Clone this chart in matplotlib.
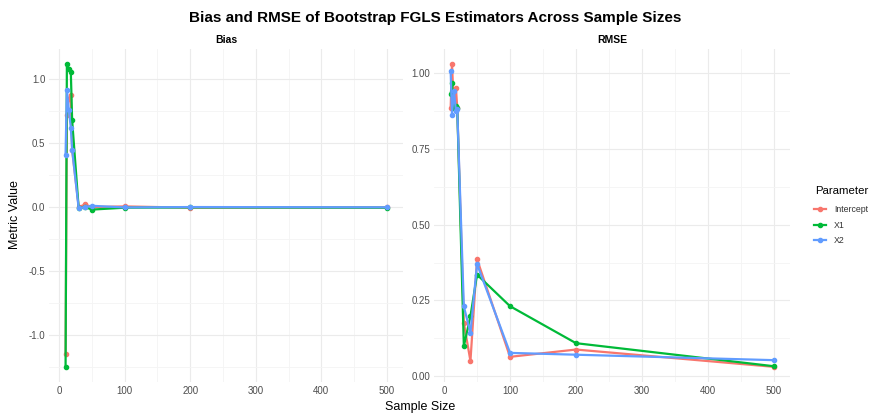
import matplotlib
matplotlib.use("Agg")
import matplotlib.pyplot as plt
from matplotlib.ticker import MultipleLocator

plt.rcParams['font.family'] = ['Liberation Sans', 'DejaVu Sans']

sample_sizes = [10, 12, 15, 18, 20, 30, 40, 50, 100, 200, 500]
parameters = ["Intercept", "X1", "X2"]
colors = {"Intercept": "#F8766D", "X1": "#00BA38", "X2": "#619CFF"}

bias_intercept = [-1.15, 0.72, 0.85, 0.88, 0.45, 0.00, 0.02, 0.00, 0.005, -0.005, -0.003]
bias_x1 = [-1.25, 1.12, 1.08, 1.06, 0.68, -0.01, 0.00, -0.02, -0.005, -0.003, -0.005]
bias_x2 = [0.41, 0.92, 0.76, 0.62, 0.45, -0.01, 0.00, 0.01, -0.003, 0.000, -0.002]

rmse_intercept = [0.885, 1.03, 0.885, 0.95, 0.885, 0.176, 0.05, 0.386, 0.064, 0.088, 0.031]
rmse_x1 = [0.93, 0.967, 0.885, 0.89, 0.885, 0.099, 0.198, 0.335, 0.231, 0.109, 0.033]
rmse_x2 = [1.005, 0.863, 0.94, 0.874, 0.88, 0.23, 0.143, 0.37, 0.077, 0.071, 0.053]

bias = {"Intercept": bias_intercept, "X1": bias_x1, "X2": bias_x2}
rmse = {"Intercept": rmse_intercept, "X1": rmse_x1, "X2": rmse_x2}

fig = plt.figure(figsize=(8.7, 4.17), dpi=100)
W, H = 870, 417

def ax_at(x0, y0, x1, y1):
    return fig.add_axes([x0 / W, 1 - y1 / H, (x1 - x0) / W, (y1 - y0) / H])

ax1 = ax_at(49.5, 48.7, 403, 382)
ax2 = ax_at(434.5, 48.7, 790, 382)

def style(ax, major, minor, fmt):
    for s in ax.spines.values():
        s.set_visible(False)
    ax.set_facecolor("white")
    ax.xaxis.set_major_locator(MultipleLocator(100))
    ax.xaxis.set_minor_locator(MultipleLocator(50))
    ax.yaxis.set_major_locator(MultipleLocator(major))
    ax.yaxis.set_minor_locator(MultipleLocator(minor))
    ax.grid(which="major", color="#EBEBEB", linewidth=0.8)
    ax.grid(which="minor", color="#F4F4F4", linewidth=0.6)
    ax.set_axisbelow(True)
    ax.tick_params(which="both", length=0, labelsize=7, labelcolor="#4D4D4D", pad=3)
    ax.yaxis.set_major_formatter(plt.FuncFormatter(lambda v, p: fmt.format(v)))

for ax, data, title in [(ax1, bias, "Bias"), (ax2, rmse, "RMSE")]:
    for p in parameters:
        ax.plot(sample_sizes, data[p], color=colors[p], linewidth=1.6,
                marker="o", markersize=3.0, label=p)
    ax.set_xlim(-14.5, 524.5)
    ax.set_title(title, fontsize=7.5, fontweight="bold", pad=4)

ax1.set_ylim(-1.37, 1.24)
ax2.set_ylim(-0.019, 1.08)
style(ax1, 0.5, 0.25, "{:.1f}")
style(ax2, 0.25, 0.125, "{:.2f}")

fig.text(0.5, 1 - 18 / H, "Bias and RMSE of Bootstrap FGLS Estimators Across Sample Sizes",
         ha="center", va="center", fontsize=11, fontweight="bold")
fig.text(420 / W, 1 - 407 / H, "Sample Size", ha="center", va="center", fontsize=9)
fig.text(15 / W, 1 - 215 / H, "Metric Value", ha="center", va="center", fontsize=9, rotation=90)

fig.text(815 / W, 1 - 191 / H, "Parameter", ha="left", va="center", fontsize=8.2)
handles, labels = ax1.get_legend_handles_labels()
leg = fig.legend(handles, labels, loc="upper left",
                 bbox_to_anchor=(814 / W, 1 - 205 / H), frameon=False, borderpad=0,
                 fontsize=6.3, handlelength=1.4, handletextpad=0.9,
                 labelspacing=0.75, borderaxespad=0)
for t in leg.get_texts():
    t.set_color("#333333")

fig.savefig("out.png", dpi=100, facecolor="white")
